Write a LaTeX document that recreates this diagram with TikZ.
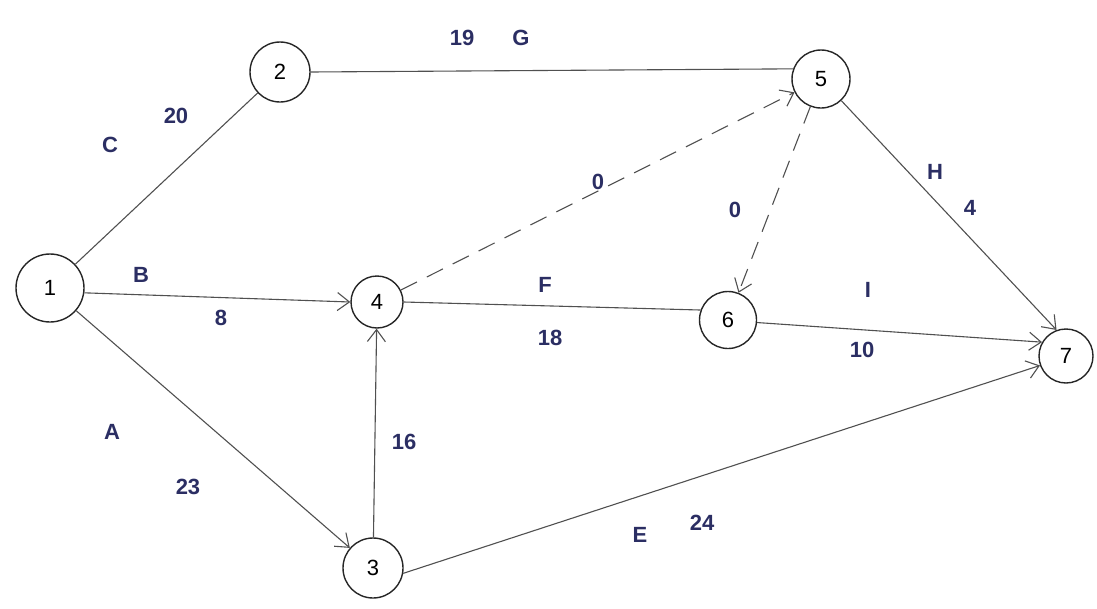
\documentclass[tikz,border=0pt]{standalone}
\usepackage{fontspec}
\setmainfont{Liberation Sans}
\usetikzlibrary{arrows.meta}
\definecolor{ink}{HTML}{2B2E63}
\definecolor{pen}{HTML}{505050}
\tikzset{
  ev/.style={circle, draw=black!85, line width=1.4pt, minimum size=58pt, inner sep=0pt, font=\fontsize{22}{24}\selectfont},
  act/.style={draw=pen, line width=1.1pt},
  arr/.style={act, -{Straight Barb[length=12pt,width=18pt,line width=1.1pt]}},
  dum/.style={arr, dash pattern=on 18pt off 11pt},
  lab/.style={text=ink, font=\fontsize{22}{24}\selectfont\bfseries}
}
\begin{document}
\begin{tikzpicture}[x=1pt,y=-1pt]
\useasboundingbox (0,0) rectangle (1097,608);
\node[ev, minimum size=68pt] (n1) at (50,288) {1};
\node[ev, minimum size=60pt] (n2) at (280,72) {2};
\node[ev, minimum size=52pt] (n4) at (377,302) {4};
\node[ev] (n5) at (821,79) {5};
\node[ev, minimum size=57pt] (n6) at (728,320) {6};
\node[ev, minimum size=54pt] (n7) at (1066,356) {7};
\node[ev, minimum size=60pt] (n3) at (373,568) {3};

\draw[act] (n1) -- (n2);
\draw[act] (n2.east) -- (n5.160);
\draw[arr] (n1.-8) -- (n4.west);
\draw[arr] (n1) -- (n3);
\draw[arr] (n3) -- (n4);
\draw[dum] (n4) -- (n5);
\draw[act] (n4.east) -- (n6.160);
\draw[dum] (n5) -- (n6);
\draw[arr] (n5) -- (n7.110);
\draw[arr] (n6.-5) -- (n7.150);
\draw[arr] (n3.-10) -- (n7.200);

\node[lab] (lc) at (110,145) {C};
\node[lab] (l20) at (176,116) {20};
\node[lab] (l19) at (462,38) {19};
\node[lab] (lg) at (521,38) {G};
\node[lab] (lb) at (141,275) {B};
\node[lab] (l8) at (221,318) {8};
\node[lab] (la) at (112,432) {A};
\node[lab] (l23) at (188,487) {23};
\node[lab] (l16) at (404,442) {16};
\node[lab] (lf) at (545,285) {F};
\node[lab] (l18) at (550,338) {18};
\node[lab] (l0a) at (598,182) {0};
\node[lab] (l0b) at (735,210) {0};
\node[lab] (lh) at (935,172) {H};
\node[lab] (l4) at (970,208) {4};
\node[lab] (li) at (868,290) {I};
\node[lab] (l10) at (862,350) {10};
\node[lab] (le) at (640,535) {E};
\node[lab] (l24) at (702,523) {24};
\end{tikzpicture}
\end{document}
